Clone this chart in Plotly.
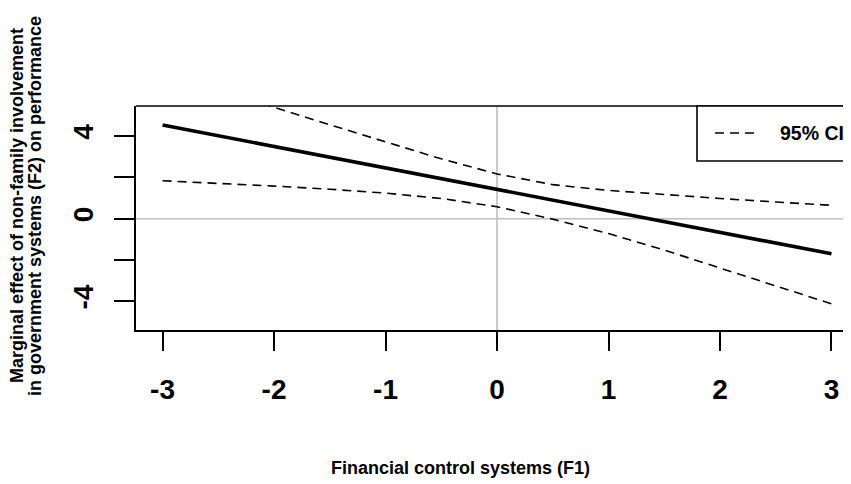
import plotly.graph_objects as go

# Data
f1 = [-3, -2.5, -2, -1.5, -1, -0.5, 0, 0.5, 1, 1.5, 2, 2.5, 3]
effect = [4.54, 4.02, 3.50, 2.98, 2.46, 1.94, 1.42, 0.90, 0.38, -0.14, -0.66, -1.18, -1.70]
ci_upper = [7.20, 6.30, 5.40, 4.55, 3.72, 2.90, 2.17, 1.65, 1.37, 1.16, 0.98, 0.81, 0.65]
ci_lower = [1.84, 1.72, 1.58, 1.43, 1.24, 0.98, 0.58, -0.02, -0.72, -1.52, -2.38, -3.24, -4.12]

x_ticks = [-3, -2, -1, 0, 1, 2, 3]
x_tick_text = ["<b>-3</b>", "<b>-2</b>", "<b>-1</b>", "<b>0</b>", "<b>1</b>", "<b>2</b>", "<b>3</b>"]
y_ticks = [-4, -2, 0, 2, 4]
y_tick_text = ["<b>-4</b>", "", "<b>0</b>", "", "<b>4</b>"]

FONT = "Liberation Sans, Arial, sans-serif"

# page offset of the figure (browser body margin)
OFF = 8
PAGE_W, PAGE_H = 851, 484
W, H = PAGE_W - OFF, PAGE_H - OFF

# plot area in page pixels
PL, PR, PT, PB = 136, 851, 106, 330
L = PL - OFF
T = PT - OFF
R = 0
B = H - (PB - OFF)
PW = PR - PL
PH = PB - PT

def px(xp):
    return (xp - PL) / PW

def py(yp):
    return (PB - yp) / PH

fig = go.Figure()

fig.add_trace(go.Scatter(x=f1, y=ci_upper, mode="lines",
                         line=dict(color="black", width=1.6, dash="9px,6px"),
                         showlegend=False, hoverinfo="skip"))
fig.add_trace(go.Scatter(x=f1, y=ci_lower, mode="lines",
                         line=dict(color="black", width=1.6, dash="9px,6px"),
                         showlegend=False, hoverinfo="skip"))
fig.add_trace(go.Scatter(x=f1, y=effect, mode="lines",
                         line=dict(color="black", width=3.6),
                         showlegend=False, hoverinfo="skip"))

shapes = [
    dict(type="line", xref="x", yref="paper", x0=0, x1=0, y0=0, y1=1,
         line=dict(color="#BEBEBE", width=1.6), layer="below"),
    dict(type="line", xref="paper", yref="y", x0=0, x1=1, y0=0, y1=0,
         line=dict(color="#BEBEBE", width=1.6), layer="below"),
    dict(type="line", xref="paper", yref="paper", x0=0, x1=1.02, y0=1, y1=1,
         line=dict(color="black", width=1.6)),
    dict(type="rect", xref="paper", yref="paper", x0=px(697), x1=px(870),
         y0=py(161), y1=1, line=dict(color="black", width=1.6),
         fillcolor="white"),
    dict(type="line", xref="paper", yref="paper", x0=px(715), x1=px(757),
         y0=py(133), y1=py(133),
         line=dict(color="black", width=1.6, dash="9px,6px")),
]

annotations = [
    dict(text="<b>95% CI</b>", xref="paper", yref="paper", x=px(778), y=py(133),
         xanchor="left", yanchor="middle", showarrow=False,
         font=dict(family=FONT, size=19.5, color="black")),
    dict(text="<b>Financial control systems (F1)</b>", xref="paper", yref="paper",
         x=px(460), y=py(468), xanchor="center", yanchor="middle", showarrow=False,
         font=dict(family=FONT, size=18, color="black")),
    dict(text="<b>Marginal effect of non-family involvement</b>", xref="paper", yref="paper",
         x=px(17), y=py(206), xanchor="center", yanchor="middle", showarrow=False,
         textangle=-90, font=dict(family=FONT, size=18, color="black")),
    dict(text="<b>in government systems (F2) on performance</b>", xref="paper", yref="paper",
         x=px(35), y=py(206), xanchor="center", yanchor="middle", showarrow=False,
         textangle=-90, font=dict(family=FONT, size=18, color="black")),
]

fig.update_layout(
    width=W, height=H,
    margin=dict(l=L, r=R, t=T, b=B, pad=0),
    paper_bgcolor="white", plot_bgcolor="white",
    showlegend=False,
    shapes=shapes,
    annotations=annotations,
    xaxis=dict(range=[-3.238, 3.175], tickmode="array", tickvals=x_ticks,
               ticktext=x_tick_text, showgrid=False, zeroline=False,
               showline=True, linecolor="black", linewidth=1.6,
               ticks="outside", ticklen=19, tickwidth=1.6, tickcolor="black",
               tickfont=dict(family=FONT, size=28, color="black"),
               ticklabelstandoff=15),
    yaxis=dict(range=[-5.39, 5.46], tickmode="array", tickvals=y_ticks,
               ticktext=y_tick_text, showgrid=False, zeroline=False,
               showline=True, linecolor="black", linewidth=1.6,
               ticks="outside", ticklen=20, tickwidth=1.6, tickcolor="black",
               tickangle=-90,
               tickfont=dict(family=FONT, size=28, color="black"),
               ticklabelstandoff=10),
)

fig.write_html("out.html")
